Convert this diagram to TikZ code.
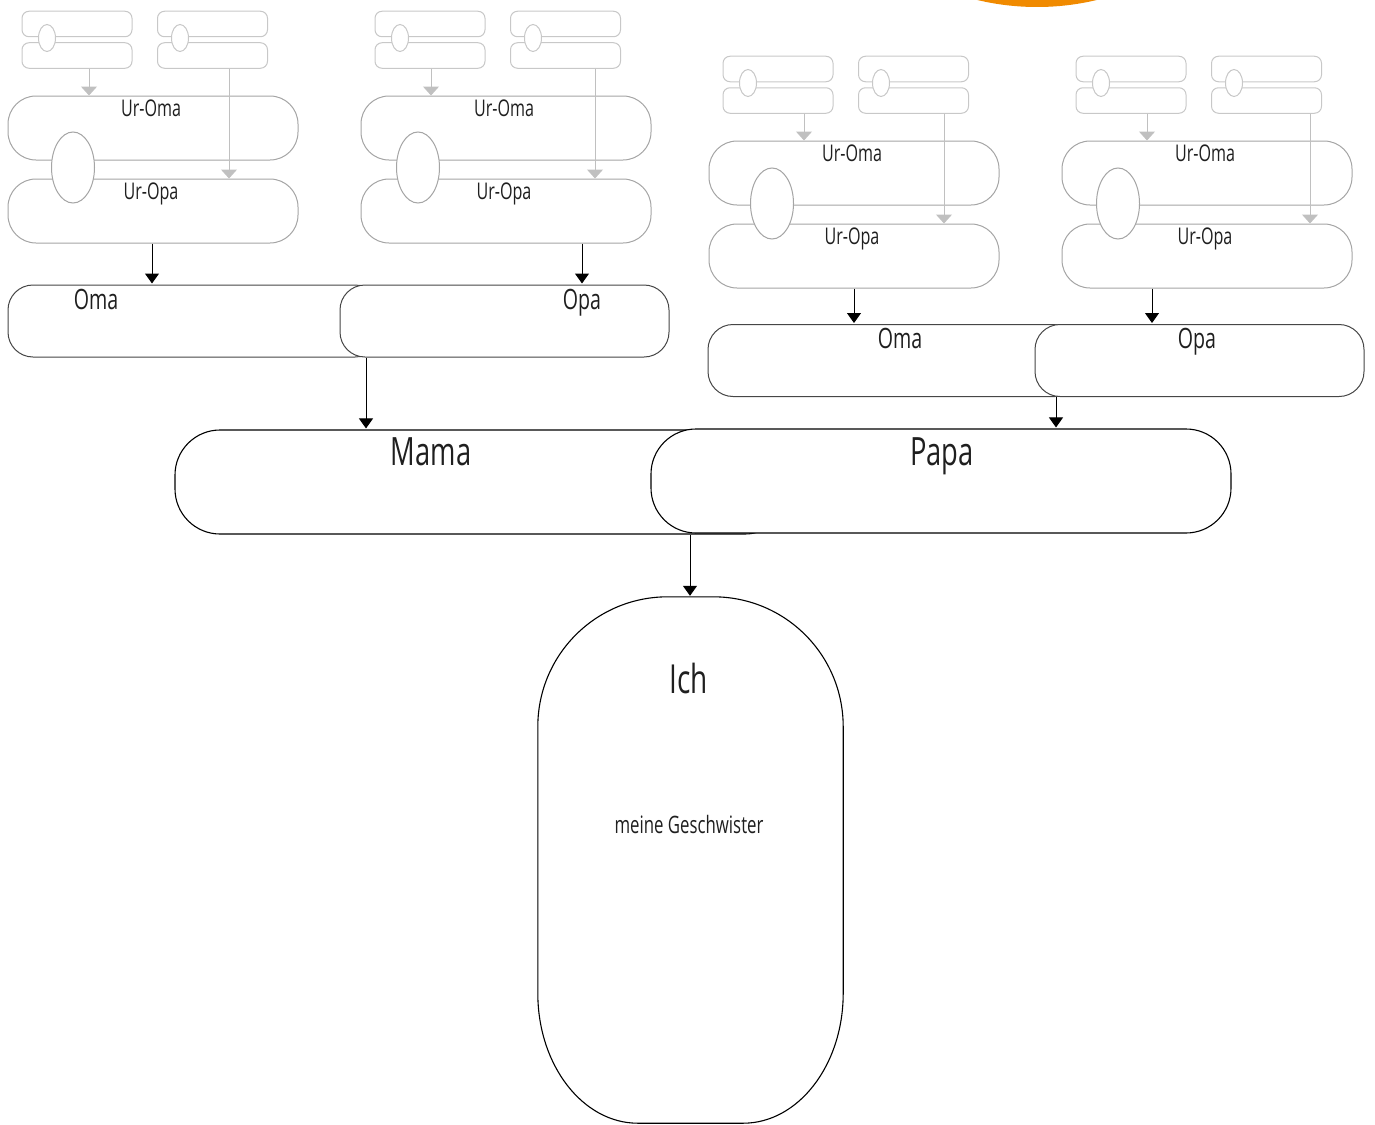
\documentclass[tikz,border=0pt]{standalone}
\usepackage{fontspec}
\setmainfont{Open Sans}[FakeStretch=0.70]
\usetikzlibrary{arrows.meta,shapes.geometric,calc}

\definecolor{paleline}{RGB}{200,200,200}
\definecolor{midline}{RGB}{165,165,165}
\definecolor{arrowgray}{RGB}{192,192,192}
\definecolor{boxline}{RGB}{70,70,70}
\definecolor{sunorange}{RGB}{240,138,0}

\tikzset{
  smallbox/.style={draw=paleline, line width=1pt, fill=white, rounded corners=7pt,
    minimum width=110pt, minimum height=25.5pt, inner sep=0pt},
  smallring/.style={draw=paleline, line width=1pt, fill=white, ellipse,
    minimum width=17pt, minimum height=27pt, inner sep=0pt},
  urbox/.style={draw=midline, line width=1pt, fill=white, rounded corners=28pt,
    minimum width=290pt, minimum height=64pt, inner sep=0pt},
  urring/.style={draw=midline, line width=1pt, fill=white, ellipse,
    minimum width=43pt, minimum height=71pt, inner sep=0pt},
  urtext/.style={anchor=base, inner sep=0pt, text=black!88, font=\fontsize{23}{27}\selectfont},
  grayarrow/.style={draw=arrowgray, line width=1pt, -{Triangle[width=16pt,length=9pt]}},
  grandbox/.style={draw=boxline, line width=1pt, fill=white, rounded corners=25pt,
    minimum height=72pt, inner sep=0pt},
  grandtext/.style={anchor=base, inner sep=0pt, text=black!88, font=\fontsize{28}{32}\selectfont},
  parentbox/.style={draw=black, line width=1.1pt, fill=white, rounded corners=45pt,
    minimum height=104pt, inner sep=0pt},
  parenttext/.style={anchor=base, inner sep=0pt, text=black!88, font=\fontsize{39}{44}\selectfont},
  selfbox/.style={minimum width=305pt, minimum height=526pt, inner sep=0pt},
  selfline/.style={draw=black, line width=1.1pt},
  blackarrow/.style={draw=black, line width=1pt, -{Triangle[width=14pt,length=10pt]}, shorten >=1pt},
  % one great-grandparent couple with their own two parent couples above
  pics/urpaar/.style n args={3}{code={
    \node[smallbox] (-s1a) at (77,24) {};
    \node[smallbox] (-s1b) at (77,55.5) {};
    \node[smallring] (-s1r) at (47,38) {};
    \node[smallbox] (-s2a) at (212.5,24) {};
    \node[smallbox] (-s2b) at (212.5,55.5) {};
    \node[smallring] (-s2r) at (180,38) {};
    \node[urbox] (-oma) at (153,128) {};
    \node[urbox] (-opa) at (153,211) {};
    \node[urring] (-ring) at (#3) {};
    \node[urtext] (-tOma) at (151,116) {Ur-Oma};
    \node[urtext] (-tOpa) at (151,199) {Ur-Opa};
    \draw[grayarrow] (-s1b.south -| #1,0) -- (-oma.north -| #1,0);
    \draw[grayarrow] (-s2b.south -| #2,0) -- (-opa.north -| #2,0);
  }}
}

\begin{document}
\begin{tikzpicture}[x=1pt,y=-1pt]
\useasboundingbox (0,0) rectangle (1375,1124);

% orange disc at the top edge
\fill[sunorange] (1037,-249) circle[radius=256pt];

% great-grandparent couples
\pic (A) at (0,0) {urpaar={89}{229}{73,167.5}};
\pic (B) at (353,0) {urpaar={78}{242}{65,167.5}};
\pic (C) at (701,45) {urpaar={103}{243}{71,158.5}};
\pic (D) at (1054,45) {urpaar={93}{256}{64,158.5}};

% grandparents, mother's side
\node[grandbox, minimum width=372pt] (Oma) at (194,321) {};
\node[grandbox, minimum width=329pt] (Opa) at (504.5,321) {};
\node[grandtext] (tOma) at (96,309) {Oma};
\node[grandtext] (tOpa) at (582,309) {Opa};

% grandparents, father's side
\node[grandbox, minimum width=372pt] (Oma2) at (894,360.5) {};
\node[grandbox, minimum width=329pt] (Opa2) at (1199.5,360.5) {};
\node[grandtext] (tOma2) at (900,348) {Oma};
\node[grandtext] (tOpa2) at (1197,348) {Opa};

% parents
\node[parentbox, minimum width=615pt] (Mama) at (482.5,482) {};
\node[parentbox, minimum width=580pt] (Papa) at (941,481) {};
\node[parenttext] (tMama) at (431,465) {Mama};
\node[parenttext] (tPapa) at (942,465) {Papa};

% me and my siblings: round top, flatter bottom
\node[selfbox] (Ich) at (690.5,860) {};
\draw[selfline] ($(Ich.north west)+(0,130)$)
  .. controls ($(Ich.north west)+(0,58)$) and ($(Ich.north west)+(58,0)$) .. ($(Ich.north west)+(130,0)$)
  -- ($(Ich.north east)+(-130,0)$)
  .. controls ($(Ich.north east)+(-58,0)$) and ($(Ich.north east)+(0,58)$) .. ($(Ich.north east)+(0,130)$)
  -- ($(Ich.south east)+(0,-130)$)
  .. controls ($(Ich.south east)+(0,-58)$) and ($(Ich.south east)+(-45,0)$) .. ($(Ich.south east)+(-100,0)$)
  -- ($(Ich.south west)+(100,0)$)
  .. controls ($(Ich.south west)+(45,0)$) and ($(Ich.south west)+(0,-58)$) .. ($(Ich.south west)+(0,-130)$)
  -- cycle;
\node[anchor=base, inner sep=0pt, text=black!88, font=\fontsize{40}{46}\selectfont] (tIch) at (689,693) {Ich};
\node[anchor=base, inner sep=0pt, text=black!88, font=\fontsize{24}{28}\selectfont] (tGeschw) at (689,833) {meine Geschwister};

% descent arrows
\draw[blackarrow] (A-opa.south -| 152,0) -- (Oma.north -| 152,0);
\draw[blackarrow] (B-opa.south -| 582,0) -- (Opa.north -| 582,0);
\draw[blackarrow] (C-opa.south -| 854,0) -- (Oma2.north -| 854,0);
\draw[blackarrow] (D-opa.south -| 1152,0) -- (Opa2.north -| 1152,0);
\draw[blackarrow] (Oma.south -| 366,0) -- (Mama.north -| 366,0);
\draw[blackarrow] (Oma2.south -| 1056,0) -- (Papa.north -| 1056,0);
\draw[blackarrow] (Mama.south -| 690,0) -- (Ich.north -| 690,0);
\end{tikzpicture}
\end{document}
